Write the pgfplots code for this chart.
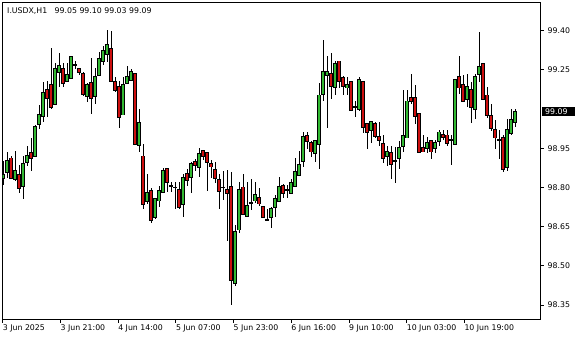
\documentclass[border=0pt]{standalone}
\usepackage{pgfplots}
\pgfplotsset{compat=1.18}
\usepackage{pgfplotstable}
\usepackage{fontspec}
\setmainfont{DejaVu Sans}
\definecolor{cgreen}{RGB}{50,185,50}
\definecolor{cred}{RGB}{205,15,15}

% bullish candles and dojis: index open high low close
\pgfplotstableread{
i o h l c
1 98.838 98.901 98.810 98.850
2 98.861 98.937 98.838 98.901
4 98.832 98.940 98.825 98.863
6 98.807 98.922 98.758 98.889
7 98.899 98.960 98.881 98.919
9 98.919 99.042 98.919 99.031
10 99.042 99.116 99.026 99.080
11 99.072 99.205 99.052 99.162
14 99.121 99.279 99.118 99.253
15 99.241 99.315 99.185 99.264
17 99.210 99.276 99.208 99.233
18 99.220 99.302 99.218 99.302
19 99.271 99.284 99.256 99.271
22 99.151 99.200 99.128 99.192
24 99.151 99.256 99.121 99.223
25 99.233 99.320 99.230 99.292
26 99.284 99.343 99.271 99.322
27 99.312 99.404 99.279 99.345
31 99.080 99.223 99.077 99.192
32 99.202 99.264 99.197 99.223
33 99.210 99.253 99.210 99.241
35 98.963 99.103 98.937 99.049
37 98.748 98.853 98.738 98.781
39 98.687 98.758 98.679 98.758
40 98.751 98.807 98.725 98.789
41 98.781 98.873 98.781 98.863
43 98.807 98.822 98.784 98.807
44 98.801 98.822 98.719 98.801
46 98.739 98.854 98.688 98.839
48 98.841 98.898 98.780 98.890
50 98.880 98.951 98.841 98.931
56 98.801 98.864 98.755 98.801
59 98.436 98.658 98.425 98.630
60 98.640 98.824 98.627 98.790
62 98.691 98.821 98.691 98.729
63 98.742 98.831 98.716 98.742
64 98.750 98.821 98.739 98.770
67 98.678 98.720 98.678 98.678
68 98.688 98.724 98.647 98.719
69 98.727 98.772 98.688 98.757
70 98.750 98.841 98.749 98.801
72 98.790 98.808 98.760 98.790
73 98.780 98.831 98.780 98.818
74 98.806 98.913 98.803 98.862
75 98.849 98.941 98.849 98.887
76 98.900 99.012 98.880 98.992
79 98.931 98.985 98.900 98.979
80 98.969 99.200 98.870 99.153
81 99.160 99.364 99.130 99.242
82 99.232 99.303 99.030 99.242
84 99.183 99.283 99.153 99.273
87 99.183 99.224 99.153 99.194
89 99.109 99.132 99.071 99.109
90 99.099 99.224 99.092 99.211
93 99.020 99.051 98.969 99.051
97 98.921 98.959 98.885 98.938
99 98.900 98.956 98.819 98.900
100 98.913 98.977 98.870 98.951
101 98.961 99.173 98.938 98.999
102 98.992 99.173 98.992 99.130
107 98.951 98.992 98.931 98.969
109 98.951 98.982 98.933 98.969
110 98.979 99.020 98.961 99.012
113 98.982 99.000 98.887 98.982
114 98.969 99.211 98.967 99.211
117 99.140 99.234 99.109 99.186
119 99.099 99.234 99.061 99.222
120 99.234 99.395 99.204 99.262
125 98.982 99.020 98.910 98.982
127 98.880 99.061 98.862 99.020
128 99.010 99.099 99.000 99.061
129 99.050 99.100 99.030 99.090
}\greentab

% bearish candles: index open high low close
\pgfplotstableread{
i o h l c
3 98.912 98.922 98.832 98.838
5 98.850 98.886 98.781 98.799
8 98.932 98.991 98.863 98.912
12 99.172 99.208 99.070 99.141
13 99.192 99.335 99.100 99.111
16 99.256 99.274 99.185 99.202
20 99.253 99.259 99.233 99.241
21 99.233 99.243 99.149 99.159
23 99.202 99.294 99.080 99.141
28 99.333 99.399 99.210 99.210
29 99.202 99.223 99.167 99.172
30 99.185 99.208 99.029 99.072
34 99.233 99.233 98.965 98.968
36 98.919 98.968 98.718 98.738
38 98.789 98.797 98.664 98.677
42 98.871 98.873 98.781 98.820
45 98.790 98.821 98.719 98.727
47 98.852 98.872 98.808 98.831
49 98.900 98.910 98.864 98.887
51 98.938 98.940 98.908 98.920
52 98.931 98.936 98.788 98.898
53 98.890 98.908 98.839 98.880
54 98.869 98.898 98.818 98.836
55 98.831 98.854 98.719 98.788
57 98.790 98.867 98.596 98.780
58 98.801 98.859 98.349 98.448
61 98.801 98.854 98.701 98.701
65 98.760 98.798 98.727 98.739
66 98.727 98.729 98.686 98.688
71 98.808 98.813 98.760 98.780
77 99.000 99.012 98.949 98.979
78 98.969 98.979 98.918 98.938
83 99.234 99.316 99.140 99.191
85 99.283 99.283 99.181 99.209
86 99.222 99.229 99.153 99.191
88 99.204 99.204 99.099 99.099
91 99.204 99.204 99.010 99.030
92 99.043 99.043 98.949 99.012
94 99.043 99.051 98.989 98.999
95 98.995 99.051 98.961 98.982
96 98.969 99.000 98.893 98.913
98 98.931 98.961 98.834 98.890
103 99.143 99.234 99.120 99.130
104 99.143 99.191 99.043 99.074
105 99.081 99.081 98.931 98.938
106 98.951 99.000 98.938 98.938
108 98.979 98.979 98.910 98.938
111 99.000 99.020 98.984 98.992
112 99.000 99.020 98.961 98.972
115 99.222 99.303 99.158 99.183
116 99.191 99.234 99.130 99.130
118 99.173 99.204 99.048 99.109
121 99.273 99.273 99.140 99.140
122 99.153 99.186 99.066 99.079
123 99.074 99.122 99.018 99.030
124 99.020 99.061 98.949 98.992
126 98.992 99.000 98.862 98.870
}\redtab

\pgfplotsset{
  wick/.style={draw=none, mark=none,
    error bars/.cd, y dir=both, y explicit, error mark=none,
    error bar style={draw=black, solid, line width=0.8bp}},
  bodyout/.style={draw=none, mark=none,
    error bars/.cd, y dir=both, y explicit, error mark=none,
    error bar style={draw=black, solid, line width=3.6bp}},
  bodyin/.style={draw=none, mark=none,
    error bars/.cd, y dir=both, y explicit, error mark=none,
    error bar style={draw=#1, solid, line width=1.6bp}},
}

\begin{document}
\begin{tikzpicture}
\fill[white] (-2.5bp,-21bp) rectangle (577.5bp,319bp);
\begin{axis}[
  at={(0,0)}, anchor=south west,
  scale only axis, width=537.5bp, height=316.3bp,
  xmin=0.875, xmax=135.25, ymin=98.2967, ymax=99.507,
  clip mode=individual,
  axis line style={line width=0.9bp, black},
  font=\fontsize{7.8bp}{9bp}\selectfont,
  xtick={0.925,15.35,29.775,44.2,58.625,73.05,87.475,101.9,116.325},
  xticklabels={3 Jun 2025, 3 Jun 21:00, 4 Jun 14:00, 5 Jun 07:00, 5 Jun 23:00, 6 Jun 16:00, 9 Jun 10:00, 10 Jun 03:00, 10 Jun 19:00},
  ytick={98.35,98.50,98.65,98.80,98.95,99.25,99.40},
  yticklabels={98.35,98.50,98.65,98.80,98.95,99.25,99.40},
  yticklabel pos=right, ytick pos=right, xtick pos=bottom,
  tick align=outside, major tick length=3.5bp,
  tick style={black, line width=0.8bp},
  xticklabel style={anchor=north west, inner sep=0pt, yshift=-2.5bp, font=\fontsize{7.8bp}{9bp}\selectfont},
  yticklabel style={anchor=west, inner sep=0pt, xshift=4bp, font=\fontsize{7.8bp}{9bp}\selectfont},
]
\addplot[wick] table[x=i, y expr={(\thisrow{h}+\thisrow{l})/2}, y error expr={(\thisrow{h}-\thisrow{l})/2}] {\greentab};
\addplot[wick] table[x=i, y expr={(\thisrow{h}+\thisrow{l})/2}, y error expr={(\thisrow{h}-\thisrow{l})/2}] {\redtab};
\addplot[bodyout] table[x=i, y expr={(\thisrow{o}+\thisrow{c})/2}, y error expr={abs(\thisrow{o}-\thisrow{c})/2+0.0036}] {\greentab};
\addplot[bodyout] table[x=i, y expr={(\thisrow{o}+\thisrow{c})/2}, y error expr={abs(\thisrow{o}-\thisrow{c})/2+0.0036}] {\redtab};
\addplot[bodyin=cgreen] table[x=i, y expr={(\thisrow{o}+\thisrow{c})/2}, y error expr={abs(\thisrow{o}-\thisrow{c})/2}] {\greentab};
\addplot[bodyin=cred] table[x=i, y expr={(\thisrow{o}+\thisrow{c})/2}, y error expr={abs(\thisrow{o}-\thisrow{c})/2}] {\redtab};

\node[anchor=west, inner sep=0pt, font=\fontsize{7.8bp}{9bp}\selectfont] at (rel axis cs:0,1) [xshift=4.5bp, yshift=-8.5bp] {I.USDX,H1\ \ \ 99.05 99.10 99.03 99.09};
\fill[black] ([xshift=1.5bp,yshift=-4.8bp]axis cs:135.25,99.09) rectangle ([xshift=35bp,yshift=4.8bp]axis cs:135.25,99.09);
\node[anchor=west, inner sep=0pt, text=white, font=\fontsize{7.8bp}{9bp}\selectfont] at ([xshift=5bp]axis cs:135.25,99.09) {99.09};
\end{axis}
\pgfresetboundingbox
\useasboundingbox (-2.5bp,-21bp) rectangle (577.5bp,319bp);
\end{tikzpicture}
\end{document}
